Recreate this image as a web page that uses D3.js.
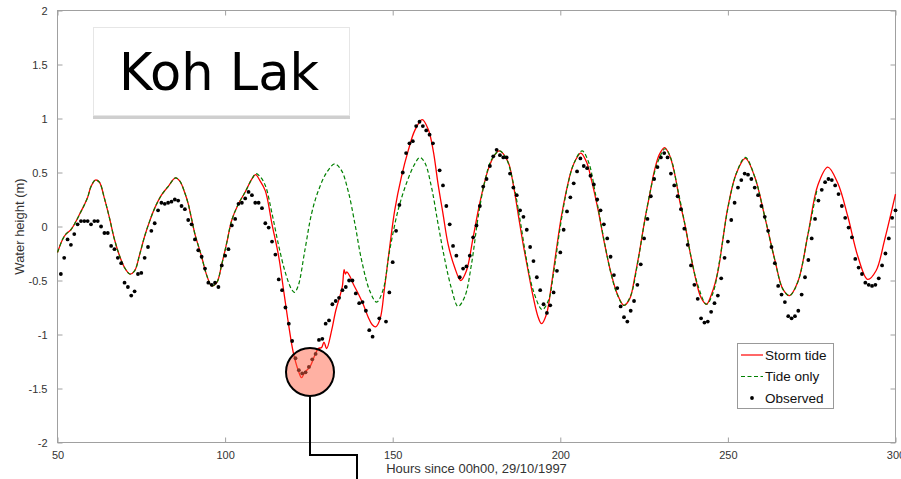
<!DOCTYPE html>
<html>
<head>
<meta charset="utf-8">
<script src="https://cdn.jsdelivr.net/npm/d3@7"></script>
<style>
  body { margin: 0; background: #fff; }
  svg { display: block; }
  .tick text { font-family: "Liberation Sans", Arial, sans-serif; font-size: 11px; fill: #333; }
</style>
</head>
<body>
<script>
// hours since 00h00 29/10/1997, water height (m)
var commonTide = [[50,-0.24],[51.5,-0.12],[52.5,-0.07],[54,-0.03],[55.2,0.03],[56.7,0.12],[58,0.2],[59,0.27],[60,0.37],[61.3,0.43],[62.5,0.41],[64,0.26],[65.5,0.08],[67,-0.12],[68.5,-0.27],[70,-0.38],[71.6,-0.44],[73,-0.41],[74.5,-0.26],[76,-0.09],[77.5,0.05],[79,0.17],[81,0.29],[83,0.37],[85.2,0.45],[86.5,0.42],[88,0.31],[89,0.21],[90,0.07],[91,-0.07],[93,-0.28],[94.5,-0.45],[96,-0.55],[97.5,-0.52],[99,-0.35],[100.5,-0.15],[102,0.06],[104,0.21],[106,0.32],[108,0.44]];

var stormTide = commonTide.concat([[109.1,0.48],[110.3,0.43],[112,0.33],[114,0.02],[116,-0.28],[117.5,-0.6],[119,-0.92],[120.3,-1.16],[121.8,-1.33],[122.8,-1.4],[123.8,-1.35],[125.3,-1.3],[126.8,-1.19],[127.8,-1.13],[128.8,-1.12],[129.5,-1.07],[130.3,-1.13],[131.8,-0.96],[133,-0.78],[134.2,-0.65],[135,-0.55],[135.5,-0.4],[135.9,-0.44],[136.3,-0.42],[137.2,-0.46],[138.2,-0.53],[139.7,-0.62],[141.2,-0.72],[142.7,-0.84],[143.9,-0.91],[144.9,-0.93],[146.2,-0.86],[147.6,-0.56],[149.1,-0.19],[150.6,0.15],[152.6,0.46],[154.6,0.7],[156.6,0.89],[158.8,0.99],[160.6,0.9],[162.1,0.7],[163.5,0.4],[165,0.12],[166.5,-0.16],[168.5,-0.38],[170.3,-0.5],[172,-0.41],[174,-0.1],[176,0.22],[178.4,0.52],[180.4,0.66],[181.8,0.7],[184.4,0.6],[185.9,0.4],[187.4,0.12],[188.9,-0.16],[190.4,-0.41],[191.9,-0.65],[193.4,-0.84],[194.4,-0.9],[195.9,-0.81],[197.4,-0.53],[198.8,-0.22],[200.3,0.09],[201.8,0.33],[203.3,0.52],[204.8,0.63],[206.1,0.68],[207.8,0.6],[209.3,0.43],[211.3,0.15],[213.2,-0.16],[215.2,-0.44],[217.2,-0.64],[219,-0.73],[220.7,-0.67],[222.2,-0.47],[223.7,-0.22],[225.2,0.06],[226.7,0.3],[228.1,0.52],[229.6,0.67],[231.1,0.73],[232.6,0.66],[234.1,0.49],[235.6,0.24],[237.3,0.0],[238.6,-0.22],[240.5,-0.5],[242,-0.66],[243.6,-0.72],[245.2,-0.62],[247,-0.42],[248.5,-0.12],[250,0.18],[252.5,0.49],[255.2,0.63],[258,0.46],[261,0.09],[264,-0.31],[266.4,-0.58],[268.4,-0.64],[270.9,-0.51],[273.9,-0.07],[276.8,0.38],[279.8,0.55],[282.8,0.4],[285.8,0.09],[288.8,-0.28],[291.7,-0.49],[294.2,-0.41],[296.7,-0.13],[300,0.3]]);

var tideOnly = commonTide.concat([[109.2,0.49],[110.5,0.46],[112,0.38],[114,0.12],[116,-0.18],[118,-0.43],[119.8,-0.58],[120.7,-0.61],[121.8,-0.55],[123.8,-0.22],[125.8,0.12],[127.8,0.33],[130.3,0.5],[132.7,0.58],[134.7,0.52],[136.7,0.33],[138.7,0.03],[140.7,-0.31],[143.2,-0.6],[145.2,-0.7],[147.1,-0.59],[149.1,-0.22],[151.6,0.15],[154.1,0.4],[156.6,0.58],[158.1,0.64],[159.6,0.59],[161.6,0.36],[163.5,0.03],[165.5,-0.3],[167.5,-0.57],[169.5,-0.74],[171.5,-0.65],[173.5,-0.35],[175.5,0.09],[177.5,0.42],[179.5,0.62],[181.9,0.7],[184,0.62],[186,0.4],[188,0.06],[190,-0.32],[192,-0.6],[194.6,-0.77],[196.5,-0.68],[198,-0.43],[200,0.0],[202,0.35],[204,0.58],[206.5,0.7],[208.5,0.59],[210.5,0.3],[213,-0.12],[215,-0.42],[217,-0.63],[219,-0.73],[221,-0.64],[223,-0.35],[225,0.02],[227,0.35],[229,0.59],[231.3,0.72],[233,0.63],[235,0.35],[237.3,0.0],[239,-0.28],[241,-0.54],[243.6,-0.72],[245.5,-0.62],[247.5,-0.32],[250,0.17],[252.5,0.49],[255.2,0.64],[258,0.46],[261,0.09],[264,-0.31],[266.4,-0.58],[268.4,-0.64],[270.9,-0.51],[273.9,-0.07],[276.5,0.33]]);

// hourly observations starting at hour 51 (null = missing)
var obsStart = 51;
var observed = [-0.44,-0.29,-0.12,-0.17,-0.07,0.02,0.05,0.05,0.05,0.02,
  0.05,0.05,0.0,-0.06,-0.06,-0.18,-0.21,-0.29,-0.34,-0.52,
  -0.56,-0.64,-0.6,-0.44,-0.43,-0.29,-0.19,-0.04,0.03,0.15,
  0.22,0.21,0.22,0.23,0.25,0.24,0.19,0.16,0.06,0.02,
  -0.12,-0.22,-0.28,-0.39,-0.52,-0.54,-0.52,-0.56,-0.36,-0.27,
  -0.21,0.01,0.07,0.21,0.22,0.26,0.32,0.29,0.22,0.22,
  0.17,0.03,-0.01,-0.14,-0.26,-0.49,-0.59,-0.75,-0.9,-1.06,
  -1.22,-1.33,-1.36,-1.35,-1.3,-1.23,-1.18,-1.05,-1.04,-0.9,
  -0.87,-0.72,-0.69,-0.66,-0.59,-0.56,-0.5,-0.5,-0.62,-0.71,
  -0.7,-0.78,-0.96,-1.02,null,-0.85,null,-0.88,-0.61,-0.33,
  -0.04,0.2,0.5,0.68,0.77,0.79,0.93,0.97,0.93,0.89,
  0.85,0.77,null,0.52,0.38,0.19,0.02,-0.18,-0.27,-0.47,
  -0.39,-0.37,-0.27,-0.1,0.01,0.19,0.37,0.44,0.56,0.65,
  0.71,0.66,0.64,0.64,0.49,0.36,0.29,0.15,0.09,-0.03,
  -0.19,-0.32,-0.47,-0.59,-0.72,-0.8,-0.73,-0.61,-0.41,-0.24,
  -0.03,0.14,0.27,0.4,0.51,0.63,0.56,0.54,0.47,0.39,
  0.25,0.15,0.02,-0.11,-0.28,-0.45,-0.57,-0.74,-0.84,-0.88,
  -0.78,-0.69,-0.54,-0.35,-0.11,0.07,0.28,0.44,0.55,0.64,
  0.68,0.64,0.49,0.38,0.28,0.16,-0.02,-0.17,-0.36,-0.54,
  -0.67,-0.85,-0.89,-0.88,-0.79,-0.71,-0.64,-0.48,-0.29,-0.14,
  0.06,0.22,0.36,0.43,0.49,0.48,0.44,0.36,0.29,0.19,
  0.09,-0.04,-0.19,-0.34,-0.55,-0.63,-0.7,-0.83,-0.85,-0.83,
  -0.78,-0.63,-0.47,-0.31,-0.11,0.07,0.24,0.34,0.41,0.44,
  0.43,0.38,0.3,0.19,0.08,-0.01,-0.1,-0.3,-0.38,-0.44,
  -0.52,-0.54,-0.55,-0.54,-0.48,-0.36,-0.25,-0.11,0.08,0.15];

var xTicks = [50, 100, 150, 200, 250, 300];
var yTicks = [-2, -1.5, -1, -0.5, 0, 0.5, 1, 1.5, 2];
var legendItems = ["Storm tide", "Tide only", "Observed"];
var titleText = "Koh Lak";

var W = 901, H = 479,
    pLeft = 57.5, pRight = 895.5, pTop = 10.5, pBottom = 442.5,
    axisColor = "#a0a0a0";

var svg = d3.select("body").append("svg")
    .attr("width", W)
    .attr("height", H);

var x = d3.scaleLinear().domain([50, 300]).range([pLeft, pRight]);
var y = d3.scaleLinear().domain([-2, 2]).range([pBottom, pTop]);

var fmt = function(d) { return String(d); };

// axes, matlab style box with inward ticks
var gx = svg.append("g")
    .attr("transform", "translate(0," + pBottom + ")")
    .call(d3.axisBottom(x).tickValues(xTicks).tickSize(-5).tickPadding(9).tickFormat(fmt));
var gxTop = svg.append("g")
    .attr("transform", "translate(0," + pTop + ")")
    .call(d3.axisTop(x).tickValues(xTicks).tickSize(-5).tickFormat(""));
var gy = svg.append("g")
    .attr("transform", "translate(" + pLeft + ",0)")
    .call(d3.axisLeft(y).tickValues(yTicks).tickSize(-5).tickPadding(10).tickFormat(fmt));
var gyRight = svg.append("g")
    .attr("transform", "translate(" + pRight + ",0)")
    .call(d3.axisRight(y).tickValues(yTicks).tickSize(-5).tickFormat(""));

[gx, gxTop, gy, gyRight].forEach(function(g) {
  g.selectAll(".domain").remove();
  g.selectAll(".tick line").attr("stroke", axisColor);
});

svg.append("rect")
    .attr("x", pLeft).attr("y", pTop)
    .attr("width", pRight - pLeft).attr("height", pBottom - pTop)
    .attr("fill", "none")
    .attr("stroke", axisColor);

// axis labels
svg.append("text")
    .attr("x", (pLeft + pRight) / 2)
    .attr("y", 473)
    .attr("text-anchor", "middle")
    .style("font-family", "Liberation Sans, Arial, sans-serif")
    .style("font-size", "13px")
    .style("fill", "#333")
    .text("Hours since 00h00, 29/10/1997");

svg.append("text")
    .attr("transform", "translate(24," + y(0) + ") rotate(-90)")
    .attr("text-anchor", "middle")
    .style("font-family", "Liberation Sans, Arial, sans-serif")
    .style("font-size", "13px")
    .style("fill", "#333")
    .text("Water height (m)");

// lines
var line = d3.line()
    .x(function(d) { return x(d[0]); })
    .y(function(d) { return y(d[1]); })
    .curve(d3.curveCatmullRom.alpha(0.5));

svg.append("path")
    .datum(stormTide)
    .attr("d", line)
    .attr("fill", "none")
    .attr("stroke", "#ff0000")
    .attr("stroke-width", 1.3);

svg.append("path")
    .datum(tideOnly)
    .attr("d", line)
    .attr("fill", "none")
    .attr("stroke", "#008000")
    .attr("stroke-width", 1.2)
    .attr("stroke-dasharray", "4,2.5");

svg.append("g").selectAll("circle")
    .data(observed.map(function(v, i) { return [obsStart + i, v]; })
                  .filter(function(d) { return d[1] !== null; }))
  .enter().append("circle")
    .attr("cx", function(d) { return x(d[0]); })
    .attr("cy", function(d) { return y(d[1]); })
    .attr("r", 1.9)
    .attr("fill", "#000");

// title box
svg.append("rect")
    .attr("x", 93).attr("y", 30)
    .attr("width", 257).attr("height", 89)
    .attr("fill", "#cfcfcf");
svg.append("rect")
    .attr("x", 93.5).attr("y", 27.5)
    .attr("width", 256).attr("height", 88)
    .attr("fill", "#fff")
    .attr("stroke", "#e6e6e6");
svg.append("text")
    .attr("x", 219)
    .attr("y", 90)
    .attr("text-anchor", "middle")
    .style("font-family", "DejaVu Sans, Verdana, sans-serif")
    .style("font-size", "51px")
    .style("fill", "#000")
    .text(titleText);

// legend
var legend = svg.append("g");
legend.append("rect")
    .attr("x", 737.5).attr("y", 343.5)
    .attr("width", 96).attr("height", 65)
    .attr("fill", "#fff")
    .attr("stroke", "#999");

var rows = legend.selectAll(".row")
    .data(legendItems)
  .enter().append("g")
    .attr("class", "row")
    .attr("transform", function(d, i) { return "translate(741," + (355 + i * 21.5) + ")"; });

rows.filter(function(d, i) { return i < 2; })
  .append("line")
    .attr("x1", 0).attr("x2", 22)
    .attr("stroke", function(d, i) { return i === 0 ? "#ff0000" : "#008000"; })
    .attr("stroke-width", 1.2)
    .attr("stroke-dasharray", function(d, i) { return i === 0 ? null : "4,2.5"; });
rows.filter(function(d, i) { return i === 2; })
  .append("circle")
    .attr("cx", 11).attr("cy", 0).attr("r", 1.9).attr("fill", "#000");

rows.append("text")
    .attr("x", 24)
    .attr("dy", "0.35em")
    .style("font-family", "Liberation Sans, Arial, sans-serif")
    .style("font-size", "13.5px")
    .style("fill", "#111")
    .text(function(d) { return d; });

// callout marker
svg.append("path")
    .attr("d", "M310,396V455H357V479")
    .attr("fill", "none")
    .attr("stroke", "#000")
    .attr("stroke-width", 2);
svg.append("circle")
    .attr("cx", 310).attr("cy", 372).attr("r", 24)
    .attr("fill", "rgba(255,99,71,0.5)")
    .attr("stroke", "#000")
    .attr("stroke-width", 2);
</script>
</body>
</html>
